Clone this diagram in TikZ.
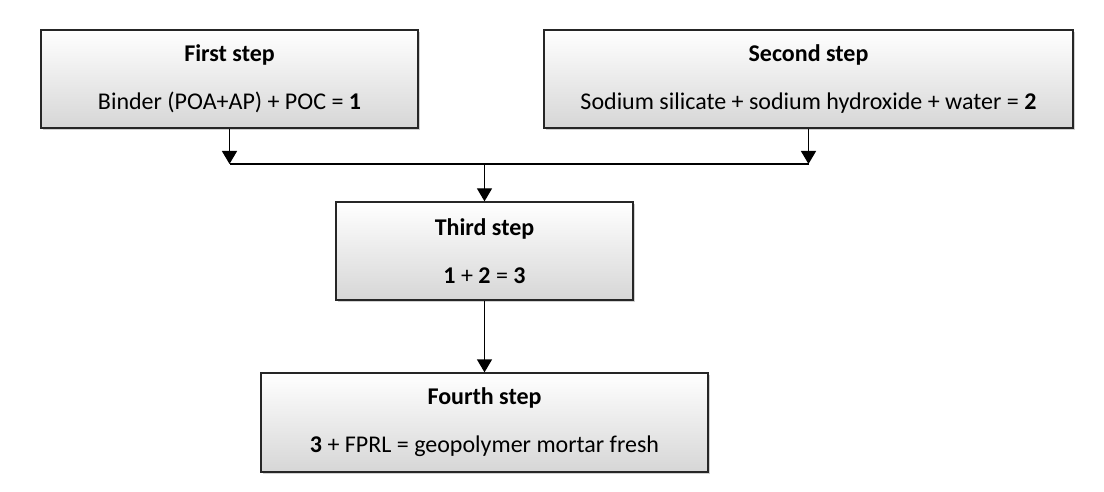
\documentclass[tikz,border=0pt]{standalone}
\usepackage{fontspec}
\setmainfont{Carlito}
\usetikzlibrary{arrows.meta,shadows}
\begin{document}
\begin{tikzpicture}[x=1pt,y=-1pt,
  stepbox/.style={draw=black!85, line width=1.3pt, rectangle, inner sep=0pt,
    top color=white, bottom color=black!16, align=center,
    font=\fontsize{24}{29}\selectfont,
    drop shadow={shadow xshift=2pt, shadow yshift=-2pt, opacity=0.18, fill=black}},
  conn/.style={line width=1.3pt, draw=black},
  arr/.style={conn, -{Triangle[width=15pt,length=13pt]}}]
\useasboundingbox (0,0) rectangle (1104,492);
\node[stepbox, minimum width=377pt, minimum height=98pt] (b1) at (229.5,79)
  {\textbf{First step}\\[19pt]Binder (POA+AP) + POC = \textbf{1}};
\node[stepbox, minimum width=529pt, minimum height=98pt] (b2) at (808.5,79)
  {\textbf{Second step}\\[19pt]Sodium silicate + sodium hydroxide + water = \textbf{2}};
\node[stepbox, minimum width=297pt, minimum height=98pt] (b3) at (484.5,251)
  {\textbf{Third step}\\[19pt]\textbf{1} + \textbf{2} = \textbf{3}};
\node[stepbox, minimum width=447pt, minimum height=99pt] (b4) at (484.5,422.5)
  {\textbf{Fourth step}\\[19pt]\textbf{3} + FPRL = geopolymer mortar fresh};
\coordinate (j1) at (b1.south |- 0,164);
\coordinate (j2) at (b2.south |- 0,164);
\coordinate (jm) at (b3.north |- 0,164);
\draw[arr] (b1.south) -- (j1);
\draw[arr] (b2.south) -- (j2);
\draw[conn] (j1) -- (j2);
\draw[arr] (jm) -- (b3.north);
\draw[arr] (b3.south) -- (b4.north);
\end{tikzpicture}
\end{document}
